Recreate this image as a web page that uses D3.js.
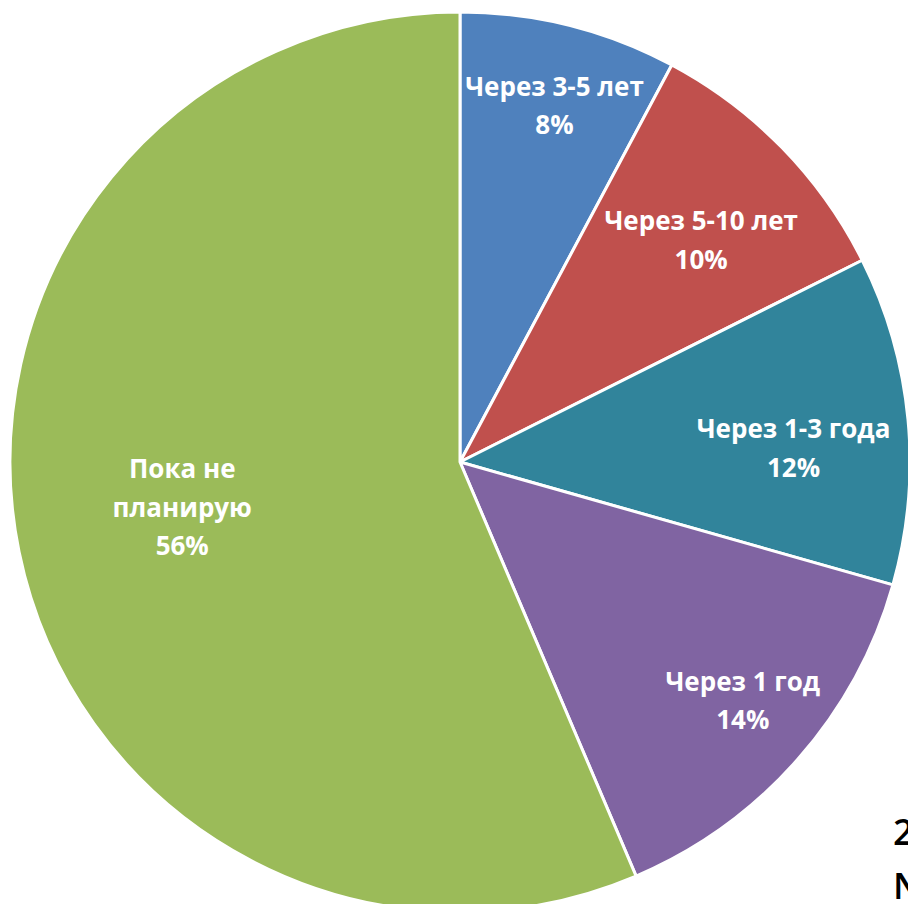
<!DOCTYPE html>
<html lang="ru">
<head>
  <meta charset="UTF-8">
  <title>Планы</title>
  <script src="https://d3js.org/d3.v7.min.js"></script>
  <style>
    html, body { margin: 0; padding: 0; overflow: hidden; background: #fff; }
    svg { display: block; }
  </style>
</head>
<body>
  <div class="chart"></div>
  <script>
    // slices clockwise from 12 o'clock
    const categories = ['Через 3-5 лет', 'Через 5-10 лет', 'Через 1-3 года', 'Через 1 год', 'Пока не планирую'];
    const values = [7.8, 9.8, 11.8, 14.2, 56.4];
    const labelLines = [['Через 3-5 лет'], ['Через 5-10 лет'], ['Через 1-3 года'], ['Через 1 год'], ['Пока не', 'планирую']];
    const colors = ['#4f81bd', '#c0504d', '#31849b', '#8064a2', '#9bbb59'];

    const W = 908, H = 904;
    const cx = 460, cy = 462, r = 450;
    // label distance from centre (share of radius) and a small nudge in px
    const labelR = [0.82, 0.73, 0.74, 0.82, 0.63];
    const nudge = [[5, 2], [6, 8], [2, 18], [6, -5], [0, -11]];

    const svg = d3.select('.chart').append('svg')
      .attr('width', W).attr('height', H);

    const g = svg.append('g').attr('transform', `translate(${cx}, ${cy})`);

    const pie = d3.pie().sort(null).value(d => d);
    const arcs = pie(values);
    const arc = d3.arc().innerRadius(0).outerRadius(r);

    g.selectAll('path').data(arcs).join('path')
      .attr('d', arc)
      .attr('fill', (d, i) => colors[i])
      .attr('stroke', '#fff').attr('stroke-width', 3).attr('stroke-linejoin', 'round');

    const fmt = d3.format('.0f');
    const lh = 38.5;

    arcs.forEach((d, i) => {
      const la = d3.arc().innerRadius(r * labelR[i]).outerRadius(r * labelR[i]);
      const c = la.centroid(d);
      const x = c[0] + nudge[i][0], y = c[1] + nudge[i][1];
      const lines = labelLines[i].concat([fmt(d.value) + '%']);
      const t = g.append('text')
        .attr('text-anchor', 'middle')
        .attr('font-family', 'Open Sans, sans-serif')
        .attr('font-weight', 'bold')
        .attr('font-size', 26)
        .attr('fill', '#fff');
      lines.forEach((s, k) => {
        t.append('tspan').attr('x', x)
          .attr('y', y + (k - (lines.length - 1) / 2) * lh + 9)
          .text(s);
      });
    });

    // text clipped by the right edge, as in the source image
    svg.append('text').attr('x', 893).attr('y', 845)
      .attr('font-family', 'Open Sans, sans-serif').attr('font-weight', 600)
      .attr('font-size', 36).attr('fill', '#000').text('2');
    svg.append('text').attr('x', 893).attr('y', 899)
      .attr('font-family', 'Open Sans, sans-serif').attr('font-weight', 600)
      .attr('font-size', 36).attr('fill', '#000').text('N');
  </script>
</body>
</html>
